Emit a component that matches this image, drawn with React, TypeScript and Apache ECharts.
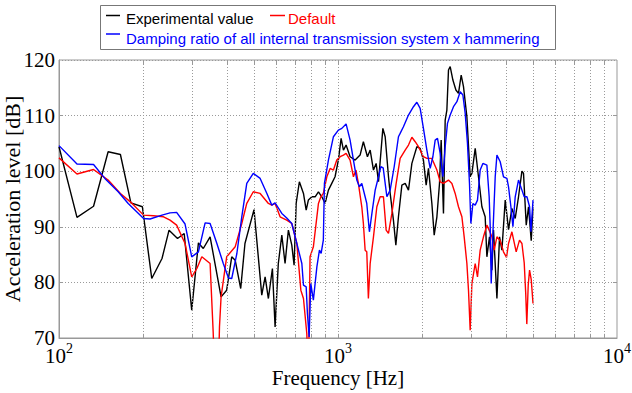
import { useEffect, useRef } from 'react';
import * as echarts from 'echarts';

// Frequency [Hz] / level [dB]
const expFreq = [100,116,133,150,166,181,199,215,234,248,266,281,299,316,329,348,381,399,416,428,448,464,500,533,548,563,582,595,611,629,646,664,683,696,708,727,752,769,783,806,828,851,875,899,924,950,976,1003,1026,1046,1069,1105,1152,1200,1233,1275,1304,1340,1370,1397,1448,1476,1517,1538,1580,1612,1647,1694,1741,1789,1840,1917,1970,2024,2070,2110,2170,2212,2262,2311,2343,2388,2422,2456,2489,2524,2581,2646,2703,2764,2817,2897,2977,3019,3103,3188,3279,3369,3417,3491,3562,3609,3712,3793,3868,3975,4085,4201,4317,4436,4563,4623,4728,4818,4927,5000];
const expLevel = [104.4,91.7,93.7,103.5,103.0,94.3,93.6,80.7,84.3,89.4,87.9,88.8,75.0,87.1,86.1,88.2,77.4,78.6,84.6,84.0,78.9,87.0,93.1,77.7,81.0,77.1,82.5,72.0,83.4,88.5,83.4,89.4,86.7,83.1,94.2,98.1,96.0,93.0,94.8,95.4,95.4,96.3,95.4,94.2,96.6,97.8,99.0,102.0,105.9,103.8,104.7,102.6,102.0,102.9,105.3,102.6,103.8,100.2,101.4,98.1,107.7,106.2,99.0,96.0,91.2,86.7,91.8,97.5,97.8,96.6,101.4,104.4,104.1,102.0,97.5,100.5,94.2,88.5,91.8,97.8,105.6,92.4,109.2,111.0,118.2,118.8,116.4,114.6,114.0,117.3,115.2,109.8,99.0,99.6,104.1,99.0,93.6,91.8,84.6,88.2,82.2,89.4,77.1,88.2,85.8,94.8,89.5,93.3,91.5,95.4,100.0,99.6,90.3,93.6,87.5,93.5];

const defFreq = [100,116,133,150,166,182,201,218,237,250,264,283,299,312,325,348,357,362,372,376,381,399,428,452,471,497,526,563,579,595,620,655,683,712,736,752,773,779,786,794,816,851,868,886,912,937,963,990,1018,1046,1069,1105,1136,1160,1183,1217,1233,1251,1268,1285,1304,1340,1378,1416,1455,1488,1517,1560,1616,1670,1741,1789,1840,1891,1943,2024,2082,2170,2262,2324,2388,2489,2560,2630,2703,2780,2833,2897,2936,2977,3019,3103,3162,3233,3322,3417,3482,3562,3630,3712,3814,3919,4018,4085,4201,4352,4473,4563,4650,4708,4750,4806,4860,4927,5000];
const defLevel = [102.4,99.5,100.3,98.4,96.0,94.3,92.1,92.0,91.8,91.2,90.3,87.0,81.0,82.5,84.6,83.4,71.0,62,62,72,77.4,84.6,86.4,90.6,94.2,96.3,96.0,94.2,93.9,94.2,91.8,91.2,90.6,87.0,78.6,77.1,70.8,66,68,84.6,86.4,94.2,95.4,96.0,99.0,100.5,100.2,102.0,102.6,102.9,103.2,102.0,99.0,100.2,97.8,93.6,90.6,85.8,85.5,77.1,83.4,88.2,93.6,95.4,95.4,89.4,88.8,92.4,97.8,102.3,103.8,104.7,106.1,105.3,104.4,102.6,102.3,102.3,100.2,98.1,97.8,98.4,97.8,96.0,93.6,91.8,88.2,83.4,78.6,71.4,79.8,83.4,81.0,85.8,88.2,90.3,89.4,88.2,85.8,88.2,87.5,85.5,84.5,87.0,89.1,85.5,87.6,87.0,83.5,78.0,72.5,79.5,82.2,80.5,76.2];

const dampFreq = [100,116,133,146,163,177,201,212,234,250,264,283,299,316,334,348,368,388,405,416,434,452,471,497,526,556,579,595,629,655,683,712,742,752,769,777,788,799,816,840,858,870,886,894,924,963,1003,1032,1069,1105,1136,1168,1193,1217,1251,1268,1296,1323,1359,1397,1424,1452,1497,1538,1590,1647,1670,1716,1789,1864,1917,1970,2024,2082,2140,2188,2230,2273,2324,2377,2422,2468,2524,2594,2668,2741,2803,2857,2911,2960,2994,3044,3103,3162,3233,3306,3417,3482,3512,3541,3591,3660,3712,3814,3919,4031,4085,4166,4236,4317,4436,4563,4650,4755,4860,4915,5000];
const dampLevel = [104.6,101.3,101.2,98.7,96.3,94.2,91.5,91.4,92.1,92.5,92.6,90.5,84.6,85.5,90.7,90.6,87.0,83.4,80.8,80.7,85.2,91.8,97.8,99.6,98.7,96.0,93.9,94.3,92.4,91.6,90.6,87.0,83.4,79.5,79.2,74.4,70.2,79.8,76.8,82.8,85.8,85.2,87.6,97.8,102.0,106.2,107.4,107.7,108.5,105.6,102.0,98.4,97.2,97.8,95.4,94.2,89.1,92.4,96.6,99.0,100.8,100.6,95.4,96.6,100.8,106.2,106.8,108.0,110.1,111.6,112.4,111.3,107.7,103.8,100.5,102.6,105.6,105.9,103.2,99.0,104.4,108.6,110.1,111.6,112.5,114.3,113.7,110.4,105.0,97.8,90.6,94.2,93.9,94.8,100.2,101.4,101.1,95.4,90.0,79.8,88.8,99.0,102.9,101.7,99.0,98.7,97.2,93.6,90.0,95.4,98.4,96.6,95.4,95.4,93.6,89.1,94.8];

const xGridValues = [200,300,400,500,600,700,800,900,1000,2000,3000,4000,5000,6000,7000,8000,9000];
const yTickValues = [80, 90, 100, 110];

const seriesNames = ['Experimental value', 'Default', 'Damping ratio of all internal transmission system x hammering'];
const seriesColors = ['#000000', '#ff0000', '#0000ff'];

const SERIF = '"Liberation Serif", "Times New Roman", serif';
const SANS = '"Liberation Sans", Arial, sans-serif';

function zip(xs: number[], ys: number[]) {
  return xs.map((x, i) => [x, ys[i]]);
}

export default function App() {
  const ref = useRef<HTMLDivElement>(null);
  useEffect(() => {
    const chart = echarts.init(ref.current!, null, { renderer: 'svg' });
    const dotted = { type: [1, 2] as any, color: '#9a9a9a', width: 1 };
    // short inside tick marks (bottom/top for x, left/right for y), in data units
    const tickLines: any[] = [];
    xGridValues.forEach((v) => {
      tickLines.push([{ coord: [v, 70] }, { coord: [v, 70.75] }]);
      tickLines.push([{ coord: [v, 120] }, { coord: [v, 119.25] }]);
    });
    yTickValues.forEach((v) => {
      tickLines.push([{ coord: [100, v] }, { coord: [103.4, v] }]);
      tickLines.push([{ coord: [10000, v] }, { coord: [9675, v] }]);
    });
    chart.setOption({
      animation: false,
      backgroundColor: '#ffffff',
      grid: {
        left: 59, top: 60, width: 558, height: 278, containLabel: false, outerBoundsMode: 'none',
        show: true, borderColor: '#999', borderWidth: 1, backgroundColor: 'transparent',
      },
      xAxis: {
        type: 'log', logBase: 10, min: 100, max: 10000,
        axisLine: { show: true, lineStyle: { color: '#999' } },
        axisTick: { show: false },
        splitLine: { show: false },
        axisLabel: {
          margin: 13,
          showMinLabel: true, showMaxLabel: true,
          formatter: (v: number) => `{b|10}{s|${Math.round(Math.log10(v))}}`,
          rich: {
            b: { fontFamily: SERIF, fontSize: 21, lineHeight: 15, color: '#000', verticalAlign: 'bottom' },
            s: { fontFamily: SERIF, fontSize: 14, lineHeight: 10, color: '#000', verticalAlign: 'bottom', padding: [0, 0, 11, 0] },
          },
        },
        name: 'Frequency [Hz]', nameLocation: 'middle', nameGap: 32, nameMoveOverlap: false,
        nameTextStyle: { fontFamily: SERIF, fontSize: 21, lineHeight: 15, color: '#000' },
      },
      yAxis: {
        type: 'value', min: 70, max: 120, interval: 10,
        axisLine: { show: true, lineStyle: { color: '#999' } },
        axisTick: { show: false },
        splitLine: { show: true, lineStyle: dotted },
        axisLabel: { margin: 4, fontFamily: SERIF, fontSize: 21, lineHeight: 13, color: '#000' },
        name: 'Acceleration level [dB]', nameLocation: 'middle', nameGap: 36, nameMoveOverlap: false,
        nameTextStyle: { fontFamily: SERIF, fontSize: 22, color: '#000' },
      },
      series: [
        {
          type: 'line', data: [[100, 70]], showSymbol: false, symbol: 'none', silent: true,
          lineStyle: { width: 0 }, z: 1,
          markLine: { silent: true, symbol: ['none', 'none'], label: { show: false }, lineStyle: dotted, data: xGridValues.map((v) => ({ xAxis: v })) },
        },
        {
          type: 'line', data: [[100, 70]], showSymbol: false, symbol: 'none', silent: true,
          lineStyle: { width: 0 }, z: 2,
          markLine: { silent: true, symbol: ['none', 'none'], label: { show: false }, lineStyle: { type: 'solid', color: '#999', width: 1 }, data: tickLines },
        },
        { name: seriesNames[0], type: 'line', data: zip(expFreq, expLevel), showSymbol: false, symbol: 'none', lineStyle: { color: seriesColors[0], width: 1.4 }, itemStyle: { color: seriesColors[0] }, z: 3 },
        { name: seriesNames[1], type: 'line', data: zip(defFreq, defLevel), showSymbol: false, symbol: 'none', lineStyle: { color: seriesColors[1], width: 1.4 }, itemStyle: { color: seriesColors[1] }, z: 4 },
        { name: seriesNames[2], type: 'line', data: zip(dampFreq, dampLevel), showSymbol: false, symbol: 'none', lineStyle: { color: seriesColors[2], width: 1.4 }, itemStyle: { color: seriesColors[2] }, z: 5 },
      ],
      graphic: [
        { type: 'rect', shape: { x: 100.5, y: 5.5, width: 455, height: 44 }, style: { fill: '#fff', stroke: '#777', lineWidth: 1 }, z: 10 },
        { type: 'line', shape: { x1: 106, y1: 15.5, x2: 120, y2: 15.5 }, style: { stroke: seriesColors[0], lineWidth: 1.5 }, z: 11 },
        { type: 'text', x: 126, y: 18, style: { text: seriesNames[0], fill: seriesColors[0], fontFamily: SANS, fontSize: 15, verticalAlign: 'middle', align: 'left' }, z: 11 },
        { type: 'line', shape: { x1: 270, y1: 15.5, x2: 285, y2: 15.5 }, style: { stroke: seriesColors[1], lineWidth: 1.5 }, z: 11 },
        { type: 'text', x: 288, y: 18, style: { text: seriesNames[1], fill: seriesColors[1], fontFamily: SANS, fontSize: 15, verticalAlign: 'middle', align: 'left' }, z: 11 },
        { type: 'line', shape: { x1: 106, y1: 34, x2: 120, y2: 34 }, style: { stroke: seriesColors[2], lineWidth: 1.5 }, z: 11 },
        { type: 'text', x: 126, y: 38.5, style: { text: seriesNames[2], fill: seriesColors[2], fontFamily: SANS, fontSize: 15, verticalAlign: 'middle', align: 'left' }, z: 11 },
      ],
    });
    return () => chart.dispose();
  }, []);
  return <div ref={ref} style={{ position: 'absolute', left: 0, top: 0, width: 632, height: 393 }} />;
}
